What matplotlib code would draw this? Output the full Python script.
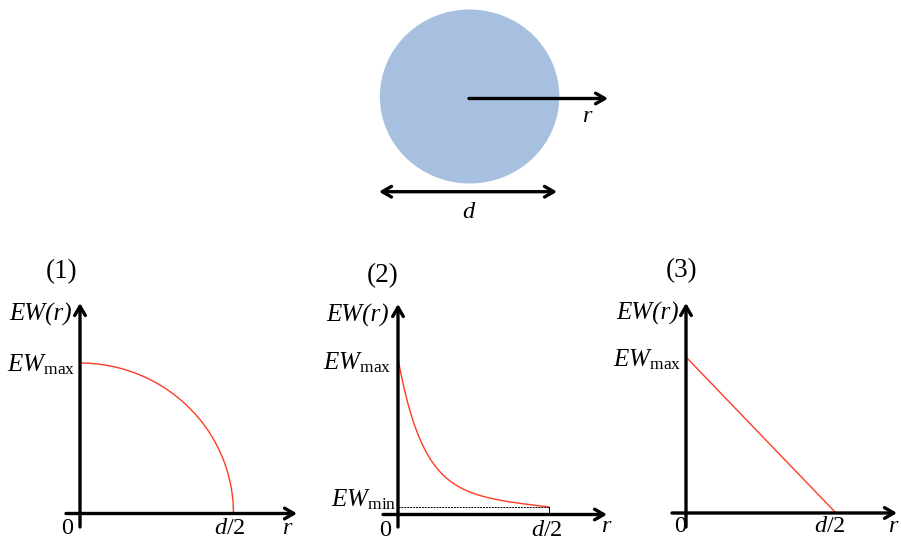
import numpy as np
import matplotlib
matplotlib.use("Agg")
import matplotlib.pyplot as plt
from matplotlib.patches import Ellipse

plt.rcParams["font.family"] = ["Liberation Serif", "DejaVu Serif"]
plt.rcParams["mathtext.fontset"] = "custom"
plt.rcParams["mathtext.rm"] = "Liberation Serif"
plt.rcParams["mathtext.it"] = "Liberation Serif:italic"

# Radial equivalent-width profiles, in units of d/2 (r) and EW_max (EW)
EW_MAX = 1.0
EW_MIN = 0.047
R_EDGE = 1.0            # r = d/2
CORE_FRACTION = 0.9     # profile (2): share of the steep central component
CORE_SCALE = 0.165      # profile (2): e-folding length of that component

panel_titles = ["(1)", "(2)", "(3)"]
r = np.linspace(0.0, R_EDGE, 400)

ew_elliptical = EW_MAX * np.sqrt(np.clip(1.0 - (r / R_EDGE) ** 2, 0.0, None))
ew_peaked = EW_MIN + (EW_MAX - EW_MIN) * (
    CORE_FRACTION * np.exp(-r / CORE_SCALE) + (1 - CORE_FRACTION) * (1 - r / R_EDGE)
)
ew_peaked[-1] = EW_MIN
r_linear = [0.0, R_EDGE]
ew_linear = [EW_MAX, 0.0]

W, H = 901, 540
fig = plt.figure(figsize=(W / 100, H / 100), dpi=100)

FS = 17.5
RED = "#ff3b22"
AX_LW = 2.4
ARROW = "->,head_length=0.55,head_width=0.32"

# ---- top sketch: disc of diameter d with radial coordinate r ----
top = fig.add_axes([0, 0, 1, 1])
top.set_xlim(0, W)
top.set_ylim(H, 0)
top.axis("off")
top.add_patch(Ellipse((469.6, 96.5), 179.5, 174, facecolor="#a7c0df", edgecolor="none"))
top.annotate("", xy=(608, 98.5), xytext=(469, 98.5),
             arrowprops=dict(arrowstyle=ARROW, lw=AX_LW, color="k",
                             shrinkA=0, shrinkB=0, mutation_scale=12))
top.annotate("", xy=(557, 191.7), xytext=(379, 191.7),
             arrowprops=dict(arrowstyle="<->,head_length=0.55,head_width=0.32", lw=AX_LW,
                             color="k", shrinkA=0, shrinkB=0, mutation_scale=12))
top.text(586.5, 116, "r", fontsize=FS, style="italic", ha="center", va="center")
top.text(468, 212, "d", fontsize=FS, style="italic", ha="center", va="center")


def make_panel(ox, oy, ux, uy, x_left, x_tip, y_bottom, y_tip):
    """Axes whose data origin sits at pixel (ox, oy) with ux, uy pixels per unit."""
    L, R_, T, B = x_left - 5, x_tip + 3, y_tip - 3, y_bottom + 5
    ax = fig.add_axes([L / W, (H - B) / H, (R_ - L) / W, (B - T) / H])
    ax.set_xlim((L - ox) / ux, (R_ - ox) / ux)
    ax.set_ylim((oy - B) / uy, (oy - T) / uy)
    ax.axis("off")
    kw = dict(arrowstyle=ARROW, lw=AX_LW, color="k", shrinkA=0, shrinkB=0, mutation_scale=12)
    ax.annotate("", xy=((x_tip - ox) / ux, 0), xytext=((x_left - ox) / ux, 0), arrowprops=kw)
    ax.annotate("", xy=(0, (oy - y_tip) / uy), xytext=(0, (oy - y_bottom) / uy), arrowprops=kw)
    return ax


def px(x, y):
    """Text placed at figure pixel coordinates."""
    return dict(x=x / W, y=1 - y / H, transform=fig.transFigure)


def labels(idx, title_xy, ewr_x, ewr_y, max_x, max_y, zero_xy, half_xy, r_xy):
    fig.text(**px(*title_xy), s=panel_titles[idx], fontsize=FS + 2, ha="center", va="center")
    fig.text(**px(ewr_x, ewr_y), s="EW(r)", fontsize=FS + 0.5, style="italic", ha="right", va="center")
    fig.text(**px(max_x, max_y), s=r"$EW_{\mathrm{max}}$", fontsize=FS + 0.5, ha="right", va="center")
    fig.text(**px(*zero_xy), s="0", fontsize=FS, ha="center", va="center")
    fig.text(**px(*half_xy), s=r"$d/2$", fontsize=FS, ha="center", va="center")
    fig.text(**px(*r_xy), s="r", fontsize=FS, style="italic", ha="center", va="center")


# ---- panel (1): elliptical profile ----
ax1 = make_panel(80, 513.5, 153.5, 150.5, 66, 297, 527, 303)
ax1.plot(r, ew_elliptical, color=RED, lw=1.0)
labels(0, (62, 272), 72, 314, 75, 365, (67, 529), (230, 529), (287, 528))

# ---- panel (2): centrally peaked profile down to EW_min ----
ax2 = make_panel(398, 514.5, 150.5, 156, 383, 607, 527, 304)
ax2.plot(r, ew_peaked, color=RED, lw=1.0)
ax2.plot([0, R_EDGE], [EW_MIN, EW_MIN], color="k", lw=0.7, ls=(0, (2, 1)))
ax2.plot([R_EDGE, R_EDGE], [0, EW_MIN], color="k", lw=0.7)
labels(1, (383, 276), 389, 315, 391, 363, (385, 531), (547, 531), (606, 527))
fig.text(**px(396, 500), s=r"$EW_{\mathrm{min}}$", fontsize=FS + 0.5, ha="right", va="center")

# ---- panel (3): linear profile ----
ax3 = make_panel(686, 513, 150, 156, 672, 897, 527, 303)
ax3.plot(r_linear, ew_linear, color=RED, lw=1.0)
labels(2, (682, 271), 679, 313, 681, 360, (680, 527), (830, 527), (893, 526))

fig.savefig("out.png", dpi=100, facecolor="white")
